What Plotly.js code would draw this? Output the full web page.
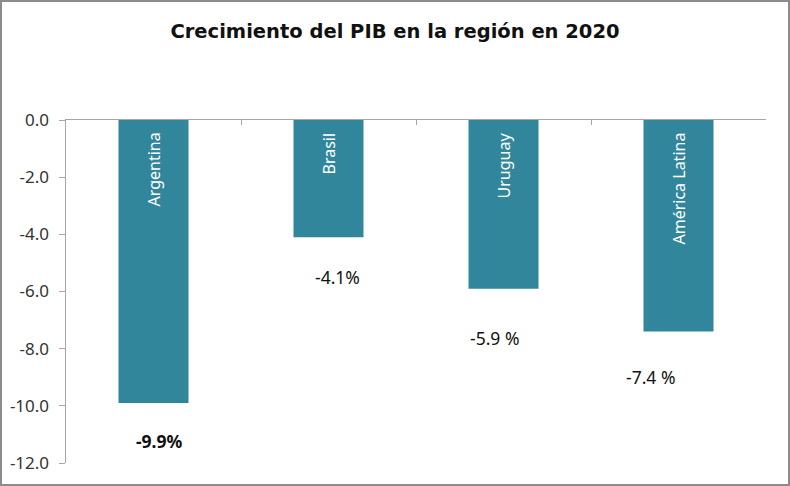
<!DOCTYPE html>
<html>
<head>
<meta charset="utf-8">
<script src="https://cdn.plot.ly/plotly-3.0.1.min.js"></script>
<style>
html,body{margin:0;padding:0;background:#fff;}
#frame{width:790px;height:486px;box-sizing:border-box;border:2px solid #8c8c8c;overflow:hidden;}
#chart{width:786px;height:482px;}
</style>
</head>
<body>
<div id="frame"><div id="chart"></div></div>
<script>
// Data
const categories = ["Argentina", "Brasil", "Uruguay", "América Latina"];
const growth = [-9.9, -4.1, -5.9, -7.4];
const valueLabels = ["-9.9%", "-4.1%", "-5.9 %", "-7.4 %"];
const yTickVals = [0, -2, -4, -6, -8, -10, -12];
const yTickText = ["0.0", "-2.0", "-4.0", "-6.0", "-8.0", "-10.0", "-12.0"];

// Label placement (manual offsets in the original chart)
const labelDx = [6, 9, -9, -28];
const labelDy = [-38, -40, -49, -45];
const labelBold = [true, false, false, false];

const trace = {
  type: "bar",
  x: categories,
  y: growth,
  width: 0.4,
  marker: {color: "#31869b"},
  hoverinfo: "skip"
};

const valueAnn = categories.map((c, i) => ({
  x: c, y: growth[i], xref: "x", yref: "y",
  text: labelBold[i] ? "<b>" + valueLabels[i] + "</b>" : valueLabels[i],
  showarrow: false, xshift: labelDx[i], yshift: labelDy[i],
  font: {family: "Noto Sans, sans-serif", size: 17.5, color: "#111111"}
}));

const nameAnn = categories.map((c) => ({
  x: c, y: 0, xref: "x", yref: "y",
  text: c, textangle: -90,
  showarrow: false, xanchor: "center", yanchor: "top", yshift: -11,
  font: {family: "Noto Sans, sans-serif", size: 16, color: "#ffffff"}
}));

const layout = {
  width: 786, height: 482,
  margin: {l: 64, r: 22, t: 118, b: 21},
  paper_bgcolor: "#ffffff", plot_bgcolor: "#ffffff",
  showlegend: false,
  title: {
    text: "<b>Crecimiento del PIB en la región en 2020</b>",
    font: {family: "DejaVu Sans, sans-serif", size: 19.5, color: "#111111"},
    x: 0.5, xanchor: "center", y: 0.94, yanchor: "middle"
  },
  xaxis: {
    side: "top",
    showticklabels: false,
    showline: true, linecolor: "#a6a6a6", linewidth: 1.5,
    ticks: "inside", ticklen: 5, tickcolor: "#a6a6a6", tickson: "boundaries",
    showgrid: false, zeroline: false, fixedrange: true
  },
  yaxis: {
    range: [-12, 0],
    tickvals: yTickVals, ticktext: yTickText,
    ticks: "outside", ticklen: 6, tickcolor: "#a6a6a6",
    ticklabelstandoff: 6,
    showline: true, linecolor: "#a6a6a6", linewidth: 1.5,
    showgrid: false, zeroline: false,
    tickfont: {family: "Noto Sans, sans-serif", size: 17, color: "#333333"},
    fixedrange: true
  },
  annotations: valueAnn.concat(nameAnn)
};

Plotly.newPlot("chart", [trace], layout, {displayModeBar: false, staticPlot: true});
</script>
</body>
</html>
